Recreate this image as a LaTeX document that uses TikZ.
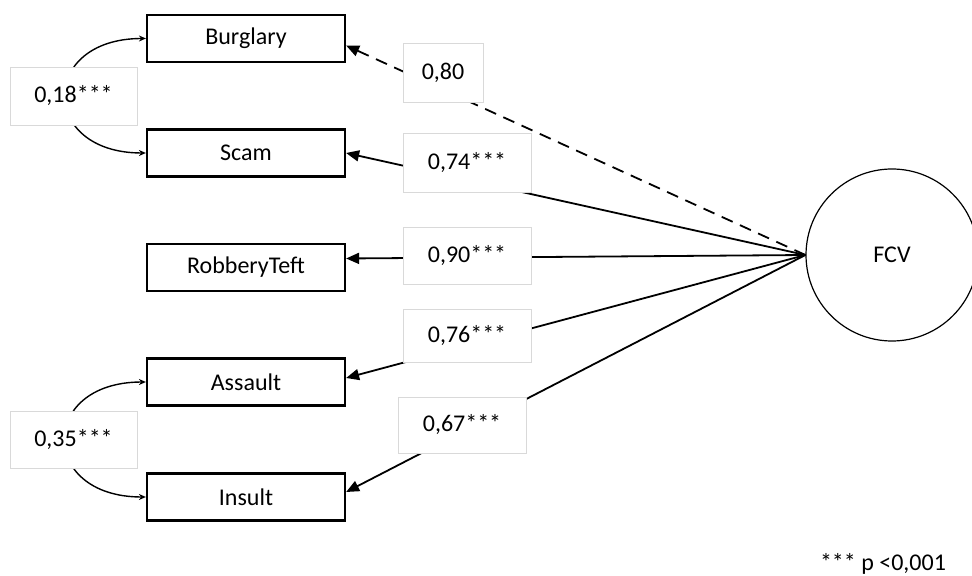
\documentclass[tikz,border=0pt]{standalone}
\usepackage{fontspec}
\setmainfont{Carlito}
\usetikzlibrary{arrows.meta,calc}

\begin{document}
\begin{tikzpicture}[x=0.5pt,y=-0.5pt,font=\fontsize{12}{14.4}\selectfont,
        var/.style={draw,line width=1.1pt,minimum width=99pt,minimum height=23.5pt,inner sep=0pt},
        coef/.style={draw=black!15,fill=white,line width=0.4pt,inner sep=0pt},
        load/.style={line width=0.9pt,-{Triangle[length=6.5pt,width=5.5pt]}},
        cov/.style={line width=0.7pt,{Stealth[length=3.5pt,width=3pt]}-{Stealth[length=3.5pt,width=3pt]}}]
        \useasboundingbox (0,0) rectangle (972,576);

        % observed variables
        \node[var] (Burglary) at (246,38.5) {Burglary};
        \node[var] (Scam) at (246,153) {Scam};
        \node[var] (Robbery) at (246,267.5) {RobberyTeft};
        \node[var] (Assault) at (246,382) {Assault};
        \node[var] (Insult) at (246,497) {Insult};

        % latent factor
        \node[circle,draw,line width=0.6pt,minimum size=86pt,inner sep=0pt] (FCV) at (892,255) {FCV};

        % loadings
        \draw[load,dash pattern=on 6pt off 4pt] (FCV.west) -- ($(Burglary.east)+(0,7)$);
        \draw[load] (FCV.west) -- (Scam.east);
        \draw[load] (FCV.west) -- ($(Robbery.east)+(0,-9)$);
        \draw[load] (FCV.west) -- ($(Assault.east)+(0,-4)$);
        \draw[load] (FCV.west) -- ($(Insult.east)+(0,-5)$);

        % covariances
        \draw[cov] (Burglary.west) to[out=180,in=180,looseness=2.4] (Scam.west);
        \draw[cov] (Assault.west) to[out=180,in=180,looseness=2.4] (Insult.west);

        \node[coef,minimum width=63.5pt,minimum height=29pt] (c18) at (73.5,96) {0,18***};
        \node[coef,minimum width=40pt,minimum height=29.5pt] (c80) at (443,72.5) {0,80};
        \node[coef,minimum width=64pt,minimum height=29.5pt] (c74) at (467,162.5) {0,74***};
        \node[coef,minimum width=64pt,minimum height=28.5pt] (c90) at (467,255.5) {0,90***};
        \node[coef,minimum width=64pt,minimum height=26.5pt] (c76) at (467,335.5) {0,76***};
        \node[coef,minimum width=64pt,minimum height=28pt] (c67) at (462,425) {0,67***};
        \node[coef,minimum width=63.5pt,minimum height=28.5pt] (c35) at (73.5,439.5) {0,35***};

        \node[anchor=base east] (note) at (953,570) {*** p <0,001};
\end{tikzpicture}
\end{document}
